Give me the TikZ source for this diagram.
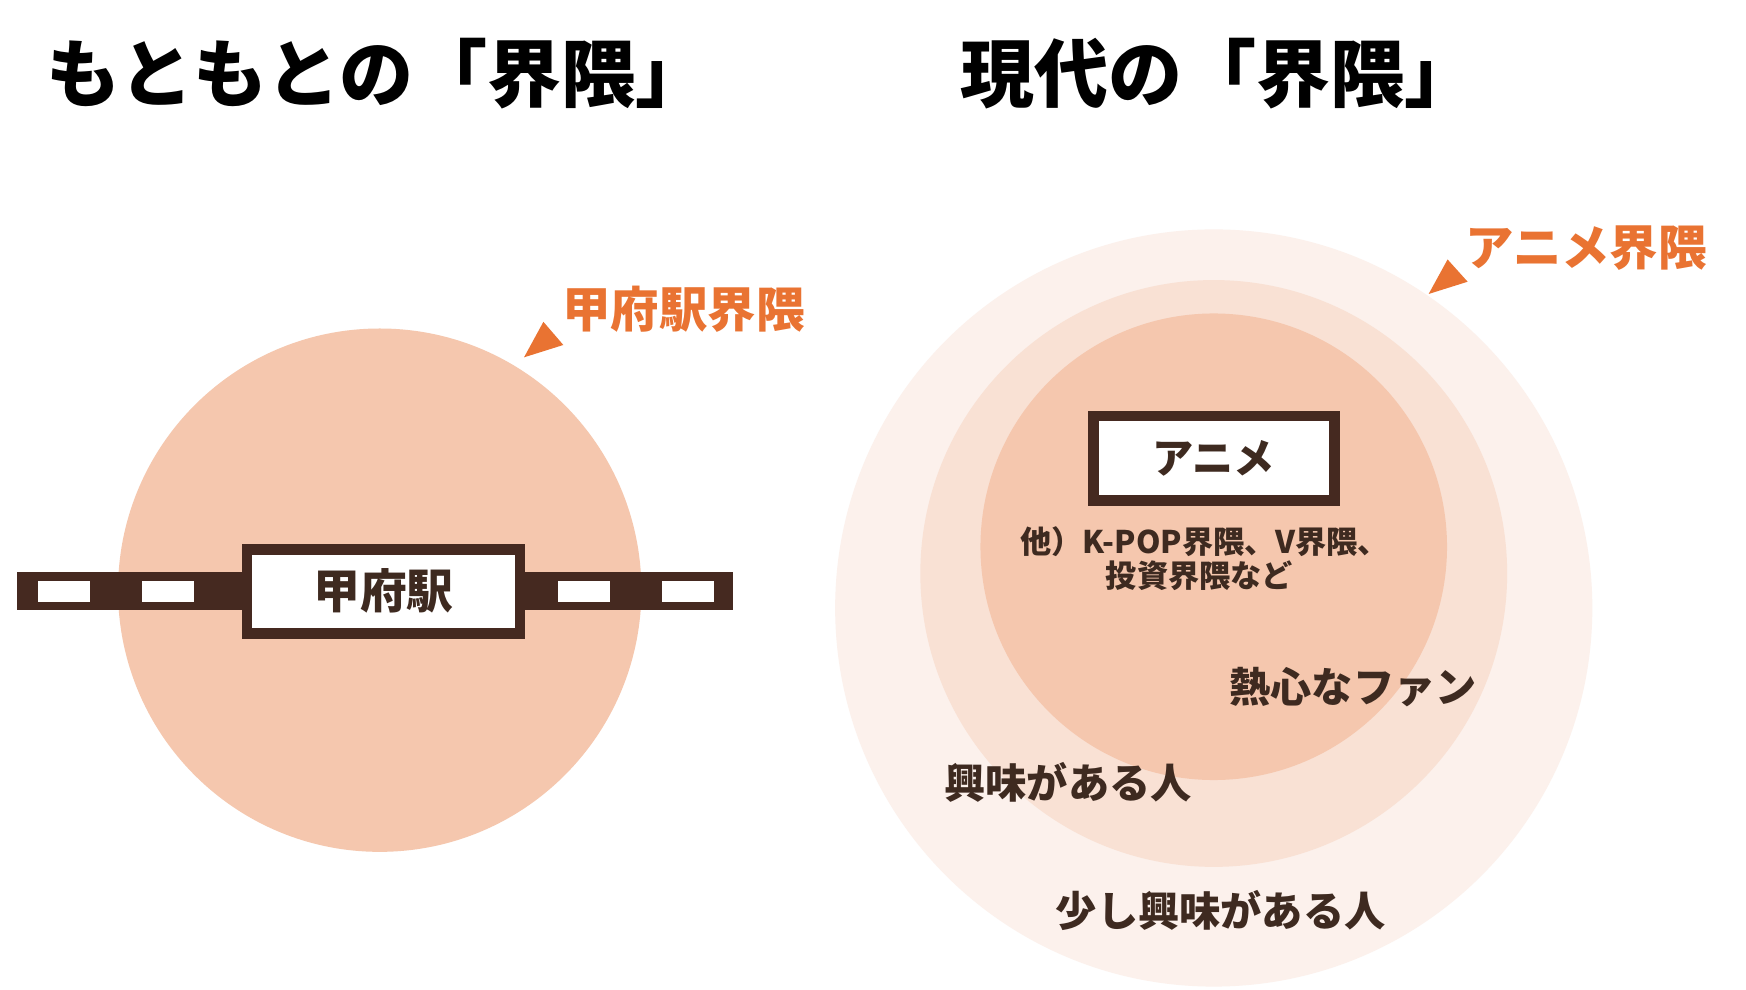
\documentclass[tikz,border=0pt]{standalone}
\usepackage{fontspec}
\setmainfont{Noto Sans CJK JP}
\definecolor{peach}{RGB}{245,199,174}
\definecolor{peachmid}{RGB}{249,225,212}
\definecolor{peachlight}{RGB}{252,241,236}
\definecolor{dbrown}{RGB}{69,41,32}
\definecolor{tbrown}{RGB}{62,42,32}
\definecolor{accent}{RGB}{233,115,50}
\begin{document}
\begin{tikzpicture}[x=1pt,y=-1pt,
  titletext/.style={text=black,font=\bfseries\fontsize{66.5}{72}\selectfont,inner sep=0pt,anchor=west},
  zonelabel/.style={text=accent,font=\bfseries\fontsize{43.5}{48}\selectfont,inner sep=0pt,anchor=west},
  bodylabel/.style={text=tbrown,font=\bfseries\fontsize{37}{40}\selectfont,inner sep=0pt,anchor=west},
  smalllabel/.style={text=tbrown,font=\bfseries\fontsize{28}{31}\selectfont,inner sep=0pt,anchor=west},
  namebox/.style={draw=dbrown,line width=9.5pt,fill=white,inner sep=0pt},
  pointer/.style={fill=accent}]
\useasboundingbox (0,0) rectangle (1568,889);
\fill[white] (0,0) rectangle (1568,889);

% titles
\node[titletext] (t1) at (42,66) {もともとの「界隈」};
\node[titletext] (t2) at (862,66) {現代の「界隈」};

% left: Kofu station
\fill[peach] (341,530) circle[radius=235];
\fill[dbrown] (15,514) rectangle (658.6,548);
\foreach \a/\b in {34.4/81.1,127.8/174.5,500.8/547.5,594.2/641}
  \fill[white] (\a,521.5) rectangle (\b,540.4);
\node[namebox,minimum width=245pt,minimum height=75.3pt] (kofu) at (344.4,531) {};
\node[text=tbrown,font=\bfseries\fontsize{42}{46}\selectfont,inner sep=0pt] (kofutext) at (kofu.center) {甲府駅};
\node[zonelabel] (kofuzone) at (505,278) {甲府駅界隈};
\fill[pointer] (488,289) -- (505.9,309.8) -- (470.6,320.9) -- cycle;

% right: anime
\fill[peachlight] (1090,546) circle[radius=340];
\fill[peachmid] (1090,515) circle[radius=263.5];
\fill[peach] (1090,491) circle[radius=209.5];
\node[namebox,minimum width=216.5pt,minimum height=75.5pt] (anime) at (1090,411.5) {};
\node[text=tbrown,font=\bfseries\fontsize{37}{40}\selectfont,inner sep=0pt] (animetext) at (anime.center) {アニメ};
\node[smalllabel] (others1) at (916,486) {他）K-POP界隈、V界隈、};
\node[smalllabel] (others2) at (993,517) {投資界隈など};
\node[bodylabel] (fan) at (1104,617) {熱心なファン};
\node[bodylabel] (interest) at (848,703) {興味がある人};
\node[bodylabel] (little) at (948,818) {少し興味がある人};
\node[zonelabel] (animezone) at (1316,223) {アニメ界隈};
\fill[pointer] (1300,233) -- (1318,253) -- (1283,264) -- cycle;
\end{tikzpicture}
\end{document}
